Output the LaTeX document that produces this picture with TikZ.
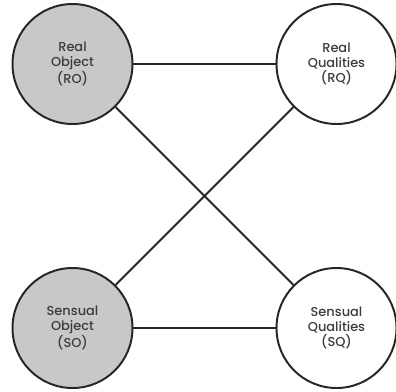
\documentclass[tikz,border=0pt]{standalone}
\usepackage{fontspec}
\setmainfont{Poppins}[UprightFont=* Medium]
\usepackage{xcolor}
\usepackage{tikz}
\usetikzlibrary{calc}

\definecolor{objgrey}{HTML}{C8C8C8}
\definecolor{textgrey}{HTML}{3C3C3C}

\tikzset{
  thing/.style={circle, draw=black!85, line width=1.4pt, minimum size=3cm,
    inner sep=0pt, align=center, text=textgrey,
    font=\fontsize{9.2}{10.6}\selectfont},
  object/.style={thing, fill=objgrey},
  quality/.style={thing, fill=white},
  tie/.style={draw=black!85, line width=1.3pt}
}

\begin{document}
\begin{tikzpicture}
              [node distance=6.6cm]
              \useasboundingbox (-1.8125,1.6) rectangle (8.0875,-8.175);
              % nodes %
              \node[object] (ro) {Real\\Object\\(RO)};
              \node[quality, right of = ro] (rq) {Real\\Qualities\\(RQ)};
              \node[object, below of = ro] (so) {Sensual\\Object\\(SO)};
              \node[quality, right of = so] (sq) {Sensual\\Qualities\\(SQ)};

              % edges %
              \draw[tie] (ro) -- (rq);
              \draw[tie] (so) -- (sq);
              \draw[tie] (ro) -- (sq);
              \draw[tie] (so) -- (rq);
            \end{tikzpicture}
\end{document}
